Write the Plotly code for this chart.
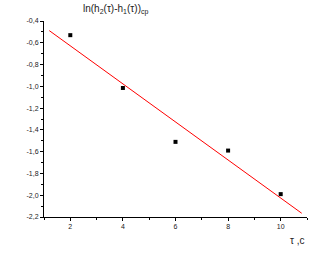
import numpy as np
import plotly.graph_objects as go

tau = [2, 4, 6, 8, 10]
ln_val = [-0.53, -1.015, -1.51, -1.59, -1.99]
fit_x_range = [1.2, 10.8]

y_tick_vals = [-0.4, -0.6, -0.8, -1.0, -1.2, -1.4, -1.6, -1.8, -2.0, -2.2]
y_tick_text = ["-0,4", "-0,6", "-0,8", "-1,0", "-1,2", "-1,4", "-1,6", "-1,8", "-2,0", "-2,2"]
x_tick_vals = [2, 4, 6, 8, 10]
x_tick_text = ["2", "4", "6", "8", "10"]

slope, intercept = np.polyfit(tau, ln_val, 1)
fx = np.array(fit_x_range)
fy = slope * fx + intercept

fig = go.Figure()
fig.add_trace(go.Scatter(x=fx, y=fy, mode="lines",
                         line=dict(color="#ff0000", width=1), hoverinfo="skip"))
fig.add_trace(go.Scatter(x=tau, y=ln_val, mode="markers",
                         marker=dict(symbol="square", size=4, color="black")))

axis_font = dict(family="Liberation Sans, Arial, sans-serif", size=7, color="#222")
lab_font = dict(family="Liberation Sans, Arial, sans-serif", size=10, color="#222")
fig.update_layout(
    width=336, height=256,
    margin=dict(l=44, r=29, t=21, b=39),
    paper_bgcolor="white", plot_bgcolor="white",
    showlegend=False,
    xaxis=dict(range=[1, 11], showgrid=False, zeroline=False,
               showline=True, linecolor="black", linewidth=1,
               ticks="outside", ticklen=3, tickcolor="black",
               tickvals=x_tick_vals, ticktext=x_tick_text, tickfont=axis_font,
               minor=dict(ticks="outside", ticklen=2, dtick=1, tick0=1, tickcolor="black")),
    yaxis=dict(range=[-2.2, -0.4], showgrid=False, zeroline=False,
               showline=True, linecolor="black", linewidth=1,
               ticks="outside", ticklen=3, tickcolor="black",
               tickvals=y_tick_vals, ticktext=y_tick_text, tickfont=axis_font,
               minor=dict(ticks="outside", ticklen=2, dtick=0.1, tick0=-0.3, tickcolor="black")),
    annotations=[
        dict(text="ln(h<sub>2</sub>(τ)-h<sub>1</sub>(τ))<sub>cp</sub>",
             xref="paper", yref="paper", x=0.14, y=1.1, xanchor="left", yanchor="top",
             showarrow=False, font=lab_font),
        dict(text="τ ,c", xref="paper", yref="paper", x=1.0, y=-0.08,
             xanchor="right", yanchor="top", showarrow=False, font=lab_font),
    ],
)
fig.write_html("out.html")
